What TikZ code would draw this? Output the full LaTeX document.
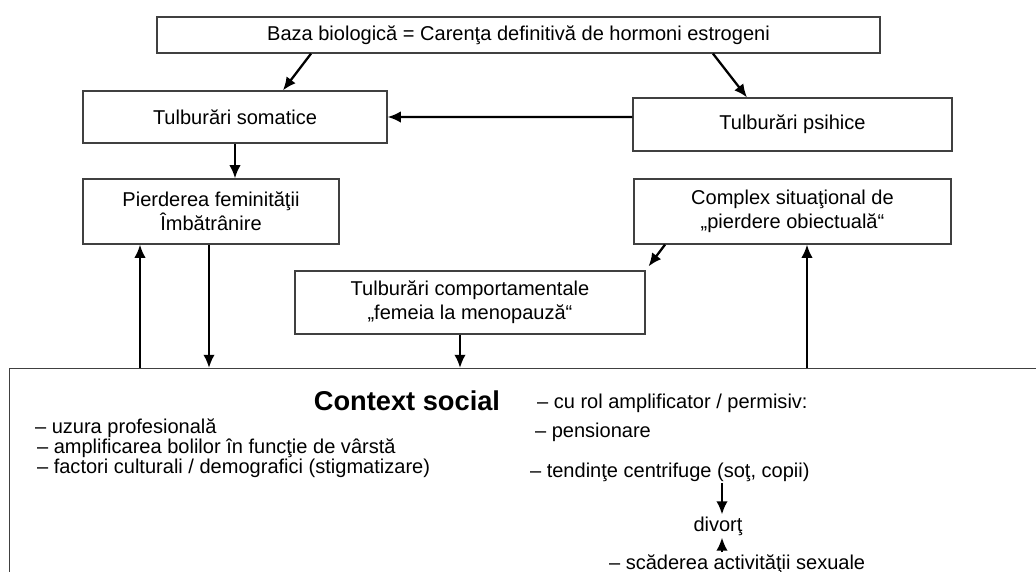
\documentclass[tikz,border=0pt]{standalone}
\usepackage{fontspec}
\setmainfont{Liberation Sans}
\usepackage{tikz}
\usetikzlibrary{arrows.meta}

\begin{document}
\begin{tikzpicture}
			[x=0.02cm,y=-0.02cm,every node/.style={inner sep=1pt,font=\fontsize{11.4}{13.6}\selectfont},
			box/.style={draw=black!75,line width=0.7pt,align=center},
			edge/.style={-{Latex[length=7.5pt,width=6.5pt]},line width=1.3pt}]
			\useasboundingbox (0,0) rectangle (1036,572);
			\node[box,minimum width=14.46cm,minimum height=0.72cm] (baza) at (518.5,35) {Baza biologică = Carenţa definitivă de hormoni estrogeni};
			\node[box,minimum width=6.08cm,minimum height=1.04cm] (somatice) at (235,117) {Tulburări somatice};
			\node[box,minimum width=6.38cm,minimum height=1.06cm] (psihice) at (792.5,124.5) {Tulburări psihice};
			\node[box,minimum width=5.12cm,minimum height=1.3cm] (pierderea) at (211,211.5) {Pierderea feminităţii\\Îmbătrânire};
			\node[box,minimum width=6.34cm,minimum height=1.3cm] (complex) at (792.5,211.5) {Complex situaţional de\\„pierdere obiectuală“};
			\node[box,minimum width=7cm,minimum height=1.26cm] (comport) at (470,302.5) {Tulburări comportamentale\\„femeia la menopauză“};
			\node[box,anchor=north west,minimum width=21cm,minimum height=5cm] (social) at (9,368) {};
			
			% context social
			\node[font=\fontsize{15.5}{18}\selectfont\bfseries] (titlu) at (407,401) {Context social};
			\node[anchor=west] (uzura) at (33,428) {– uzura profesională};
			\node[anchor=west] (boli) at (35,448) {– amplificarea bolilor în funcţie de vârstă};
			\node[anchor=west] (factori) at (35,468) {– factori culturali / demografici (stigmatizare)};
			\node[anchor=west] (rol) at (535,403) {– cu rol amplificator / permisiv:};
			\node[anchor=west] (pensie) at (533,432) {– pensionare};
			\node[anchor=west] (tendinte) at (528,472) {– tendinţe centrifuge (soţ, copii)};
			\node (divort) at (718,526) {divorţ};
			\node[anchor=west] (scadere) at (607,564) {– scăderea activităţii sexuale};
			
			\draw[edge] ([xshift=-4.15cm]baza.south) to ([xshift=0.96cm]somatice.north);
			\draw[edge] ([xshift=3.89cm]baza.south) to ([xshift=-0.91cm]psihice.north);
			\draw[edge] ([yshift=0.15cm]psihice.west) to (somatice.east);
			\draw[edge] (somatice.south) to (somatice.south |- pierderea.north);
			\draw[edge] ([xshift=-2.55cm]complex.south) to ([xshift=0.06cm,yshift=0.08cm]comport.north east);
			\draw[edge] ([xshift=-0.2cm]comport.south) to ([xshift=-0.2cm]comport.south |- social.north);
			\draw[edge] (social.north -| 140,0) to (pierderea.south -| 140,0);
			\draw[edge] (pierderea.south -| 209,0) to (social.north -| 209,0);
			\draw[edge] (social.north -| 807,0) to (complex.south -| 807,0);
			\draw[edge] (tendinte.south -| 722,0) to (divort.north -| 722,0);
			\draw[edge] (scadere.north -| 722,0) to (divort.south -| 722,0);

			\end{tikzpicture}
\end{document}
